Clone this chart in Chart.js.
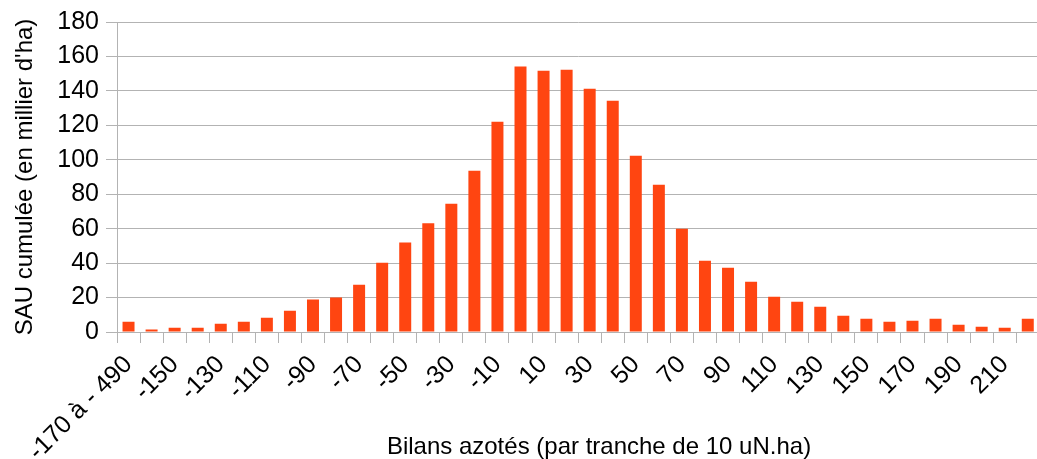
<!DOCTYPE html>
<html>
<head>
<meta charset="utf-8">
<script src="https://cdn.jsdelivr.net/npm/chart.js@4"></script>
<style>
  html, body { margin: 0; padding: 0; background: #fff; overflow: hidden; }
  #wrap { width: 1056px; height: 459px; }
</style>
</head>
<body>
<div id="wrap"><canvas id="grafico"></canvas></div>
<script>
// tranches de bilan azoté (10 uN.ha)
const tranches = ['-170 à - 490'];
for (let v = -160; v <= 220; v += 10) tranches.push(String(v));

// SAU cumulée, en milliers d'ha
const sau = [
    6.0, 1.5, 2.5, 2.5, 4.8, 6.0, 8.3, 12.4, 18.8, 20.0,
    27.5, 40.2, 51.9, 63.1, 74.5, 93.7, 122.1, 154.1, 151.7, 152.3,
    141.3, 134.3, 102.4, 85.5, 60.0, 41.4, 37.3, 29.2, 20.5, 17.6,
    14.7, 9.5, 7.7, 6.0, 6.6, 7.7, 4.2, 3.1, 2.5, 7.7
];

const yTicks = [0, 20, 40, 60, 80, 100, 120, 140, 160, 180];

const gris = '#b3b3b3';
const police = 'Liberation Sans, Arial, sans-serif';
const titreX = 'Bilans azotés (par tranche de 10 uN.ha)';

// titre de l'axe X, centré sur toute la largeur du graphique d'origine
const titreAxeX = {
    id: 'titreAxeX',
    afterDraw(chart) {
        const c = chart.ctx;
        c.save();
        c.font = '24px ' + police;
        c.fillStyle = '#000';
        c.textAlign = 'center';
        c.textBaseline = 'middle';
        c.fillText(titreX, 599, 447);
        c.restore();
    }
};

const ctx = document.getElementById('grafico');

new Chart(ctx, {
    type: 'bar',
    data: {
        labels: tranches,
        datasets: [{
            data: sau,
            backgroundColor: '#ff4511',
            barPercentage: 0.52,
            categoryPercentage: 1
        }]
    },
    plugins: [titreAxeX],
    options: {
        responsive: true,
        maintainAspectRatio: false,
        animation: false,
        layout: { padding: { top: 22, right: 1, left: 0, bottom: 0 } },
        plugins: {
            legend: { display: false },
            tooltip: { enabled: false }
        },
        scales: {
            x: {
                afterFit: (s) => { s.height = 127; },
                grid: {
                    display: true,
                    drawOnChartArea: false,
                    color: gris,
                    tickLength: 11,
                    offset: true
                },
                border: { color: gris },
                ticks: {
                    autoSkip: false,
                    maxRotation: 45,
                    minRotation: 45,
                    color: '#000',
                    padding: 7,
                    font: { family: police, size: 25 },
                    callback: function (val, i) {
                        return i % 2 === 0 ? this.getLabelForValue(val) : '';
                    }
                },
                title: { display: false }
            },
            y: {
                min: 0,
                max: 180,
                afterFit: (s) => { s.width = 117; },
                afterBuildTicks: (s) => { s.ticks = yTicks.map(v => ({ value: v })); },
                grid: {
                    color: gris,
                    tickLength: 11
                },
                border: { color: gris },
                ticks: {
                    color: '#000',
                    padding: 7,
                    font: { family: police, size: 25 }
                },
                title: {
                    display: true,
                    text: "SAU cumulée (en millier d'ha)",
                    color: '#000',
                    font: { family: police, size: 24 },
                    padding: { top: 11, bottom: 0 }
                }
            }
        }
    }
});
</script>
</body>
</html>
